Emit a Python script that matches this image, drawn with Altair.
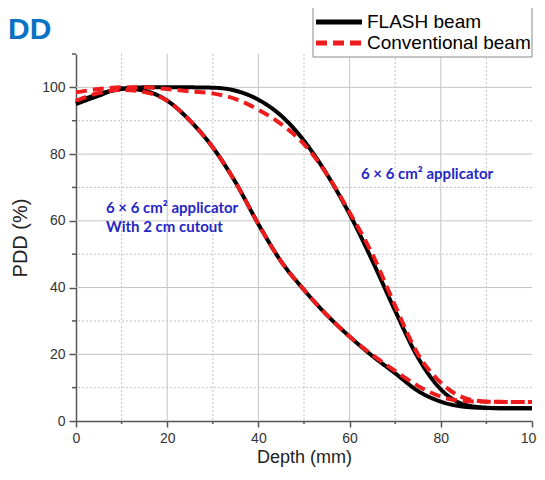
import altair as alt
import pandas as pd

# ---- data ----
depth = [0, 5, 10, 15, 20, 25, 30, 35, 40, 45, 50, 55, 60, 65, 70, 75, 80, 85, 90, 95, 100]

flash_large = [95.5, 98, 99.5, 100, 100, 100, 99.9, 99, 96.3, 91.5, 84, 74, 62, 48, 33, 19, 9.5, 5, 4, 3.8, 3.8]
conv_large = [98.5, 99.5, 100, 100, 99.5, 98.8, 98.2, 96.5, 93.3, 89, 83, 74, 62.5, 50, 34.5, 20, 11.5, 7, 5.8, 5.7, 5.7]
flash_small = [95, 97.5, 99.7, 99, 96, 90, 82, 71.5, 59, 47.8, 39.3, 31.8, 25.3, 19.5, 14.3, 9, 5.8, 4.3, 3.9, 3.8, 3.8]
conv_small = [96, 98.3, 99.2, 98.6, 96, 90, 82, 71.5, 59, 47.8, 39.3, 31.8, 25.3, 19.8, 15, 10.5, 7.3, 6, 5.8, 5.7, 5.7]

beams = ["FLASH beam", "Conventional beam"]
major_x = [0, 20, 40, 60, 80, 100]
major_y = [0, 20, 40, 60, 80, 100]
grid_major_x = [20, 40, 60, 80]
grid_minor_x = [10, 30, 50, 70, 90]
grid_major_y = [20, 40, 60, 80, 100]
grid_minor_y = [10, 30, 50, 70, 90]

rows = []
for name, beam, vals in [
    ("large", "FLASH beam", flash_large),
    ("small", "FLASH beam", flash_small),
    ("large", "Conventional beam", conv_large),
    ("small", "Conventional beam", conv_small),
]:
    for d, v in zip(depth, vals):
        rows.append({"depth": d, "pdd": v, "beam": beam, "curve": name + beam})
df = pd.DataFrame(rows)

W, H = 456, 367
FONT = "Liberation Sans, Arial, sans-serif"

xs = alt.Scale(domain=[0, 100], nice=False, zero=False)
ys = alt.Scale(domain=[0, 110], nice=False, zero=False)

X_AX = alt.Axis(title="Depth (mm)", values=major_x, grid=False, tickSize=6,
                tickColor="#555555", tickWidth=1.5, domainColor="#555555",
                domainWidth=1.5, labelFontSize=14, labelFont=FONT,
                labelColor="#333333", titleFont=FONT, titleFontSize=18,
                titleFontWeight="normal", titleColor="#222222",
                labelPadding=4, titlePadding=3, labelFlush=False, labelOverlap=False)
Y_AX = alt.Axis(title="PDD (%)", values=major_y, grid=False, tickSize=7,
                tickColor="#555555", tickWidth=1.5, domainColor="#555555",
                domainWidth=1.5, labelFontSize=14, labelFont=FONT,
                labelColor="#333333", titleFont=FONT, titleFontSize=20,
                titleFontWeight="normal", titleColor="#222222",
                labelPadding=4, titlePadding=11, labelFlush=False, labelOverlap=False)

GRID = "#c4c4c4"
gx_major = alt.Chart(pd.DataFrame({"depth": grid_major_x})).mark_rule(
    color=GRID, strokeWidth=1).encode(x=alt.X("depth:Q", scale=xs, axis=X_AX))
gx_minor = alt.Chart(pd.DataFrame({"depth": grid_minor_x})).mark_rule(
    color=GRID, strokeWidth=1, strokeDash=[2, 2]).encode(x=alt.X("depth:Q", scale=xs, axis=X_AX))
gy_major = alt.Chart(pd.DataFrame({"pdd": grid_major_y})).mark_rule(
    color=GRID, strokeWidth=1).encode(y=alt.Y("pdd:Q", scale=ys, axis=Y_AX))
gy_minor = alt.Chart(pd.DataFrame({"pdd": grid_minor_y})).mark_rule(
    color=GRID, strokeWidth=1, strokeDash=[2, 2]).encode(y=alt.Y("pdd:Q", scale=ys, axis=Y_AX))

tx_minor = alt.Chart(pd.DataFrame({"depth": grid_minor_x})).mark_rule(
    color="#555555", strokeWidth=1.5).encode(
    x=alt.X("depth:Q", scale=xs, axis=X_AX), y=alt.value(H), y2=alt.value(H + 3))
ty_minor = alt.Chart(pd.DataFrame({"pdd": grid_minor_y + [110]})).mark_rule(
    color="#555555", strokeWidth=1.5).encode(
    y=alt.Y("pdd:Q", scale=ys, axis=Y_AX), x=alt.value(-4), x2=alt.value(0))

color_enc = alt.Color("beam:N", scale=alt.Scale(domain=beams, range=["#000000", "#ee1c1c"]),
                      legend=None)
dash_enc = alt.StrokeDash("beam:N", scale=alt.Scale(domain=beams, range=[[1, 0], [11, 6]]),
                          legend=None)

base = alt.Chart(df).mark_line(strokeWidth=4, interpolate="monotone").encode(
    x=alt.X("depth:Q", scale=xs, axis=X_AX),
    y=alt.Y("pdd:Q", scale=ys, axis=Y_AX),
    color=color_enc,
    strokeDash=dash_enc,
    detail="curve:N",
)
black = base.transform_filter(alt.datum.beam == "FLASH beam")
red = base.transform_filter(alt.datum.beam == "Conventional beam")

ann_col = "#2626c4"
ann1 = alt.Chart(pd.DataFrame({"a": [0]})).mark_text(
    text=["6 × 6 cm² applicator", "With 2 cm cutout"], align="left", baseline="alphabetic",
    font="Lato", fontWeight="bold", fontSize=15, color=ann_col, lineHeight=19
).encode(x=alt.value(30), y=alt.value(159))
ann2 = alt.Chart(pd.DataFrame({"a": [0]})).mark_text(
    text="6 × 6 cm² applicator", align="left", baseline="alphabetic",
    font="Lato", fontWeight="bold", fontSize=15, color=ann_col
).encode(x=alt.value(285), y=alt.value(125))
ttl = alt.Chart(pd.DataFrame({"a": [0]})).mark_text(
    text="DD", align="left", baseline="alphabetic",
    font=FONT, fontWeight="bold", fontSize=30, color="#0a72c4"
).encode(x=alt.value(-68), y=alt.value(-15))

# ---- legend drawn by hand ----
one = pd.DataFrame({"a": [0]})
leg_box = alt.Chart(one).mark_rect(fill="#ffffff", stroke="#8a8a8a", strokeWidth=1).encode(
    x=alt.value(237), x2=alt.value(456), y=alt.value(-47), y2=alt.value(3))
leg_l1 = alt.Chart(one).mark_rule(color="#000000", strokeWidth=5).encode(
    x=alt.value(240), x2=alt.value(286), y=alt.value(-32))
leg_l2 = alt.Chart(one).mark_rule(color="#ee1c1c", strokeWidth=5, strokeDash=[11, 6]).encode(
    x=alt.value(240), x2=alt.value(286), y=alt.value(-11))
leg_t1 = alt.Chart(one).mark_text(text=beams[0], align="left", baseline="middle",
                                  font=FONT, fontSize=19, color="#000000").encode(
    x=alt.value(291), y=alt.value(-32))
leg_t2 = alt.Chart(one).mark_text(text=beams[1], align="left", baseline="middle",
                                  font=FONT, fontSize=19, color="#000000").encode(
    x=alt.value(291), y=alt.value(-11))

chart = alt.layer(
    gx_minor, gy_minor, gx_major, gy_major, tx_minor, ty_minor, black, red, ann1, ann2, ttl,
    leg_box, leg_l1, leg_l2, leg_t1, leg_t2
).properties(
    width=W, height=H,
    autosize=alt.AutoSizeParams(type="none"),
    padding={"left": 68, "top": 46, "right": 5, "bottom": 51},
).configure_view(stroke=None)

chart.save("out.html", embed_options={"renderer": "svg", "actions": False})
